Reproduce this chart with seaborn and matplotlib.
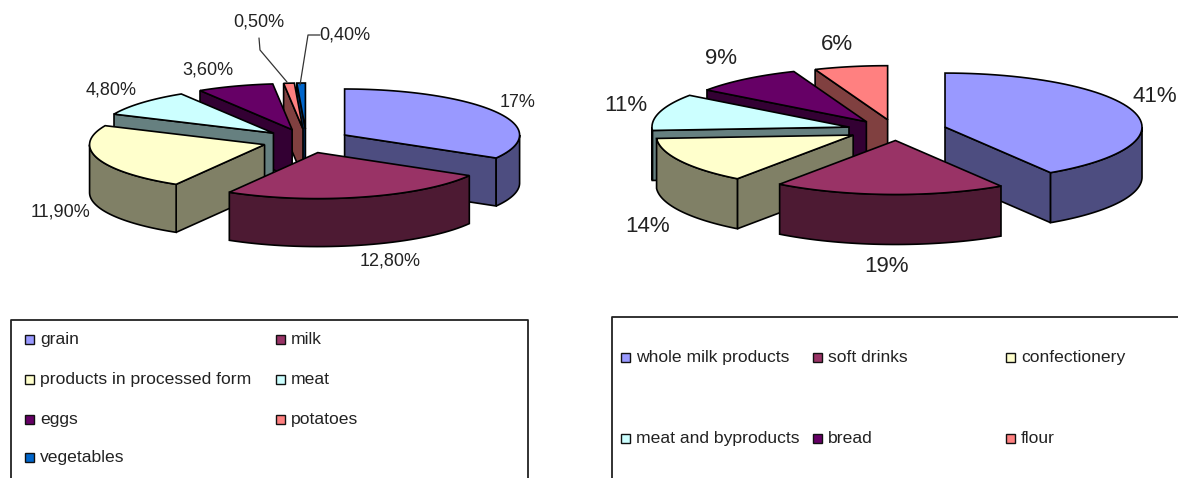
import numpy as np
import seaborn as sns
import matplotlib
matplotlib.use("Agg")
import matplotlib.pyplot as plt
from matplotlib.patches import Polygon, Rectangle

# data
left_names = ["grain", "milk", "products in processed form", "meat", "eggs", "potatoes", "vegetables"]
left_values = [17, 12.8, 11.9, 4.8, 3.6, 0.5, 0.4]
left_labels = ["17%", "12,80%", "11,90%", "4,80%", "3,60%", "0,50%", "0,40%"]

right_names = ["whole milk products", "soft drinks", "confectionery", "meat and byproducts", "bread", "flour"]
right_values = [41, 19, 14, 11, 9, 6]
right_labels = ["41%", "19%", "14%", "11%", "9%", "6%"]

top_colors = ["#9999FF", "#993366", "#FFFFCC", "#CCFFFF", "#660066", "#FF8080", "#0066CC"]

sns.set_theme(style="white")
plt.rcParams["font.family"] = ["Liberation Sans", "DejaVu Sans"]
TEXT = "#222222"

palette = sns.color_palette(top_colors)
wall_colors = [tuple(c * 0.5 for c in col) for col in palette]


def draw_pie(ax, values, cx, cy, rx, ry, ex, ey, depth):
    # fake excel 3d pie, slices go clockwise from 12 o'clock
    edges = np.cumsum([0] + list(values)) / sum(values) * 2 * np.pi
    mids = (edges[:-1] + edges[1:]) / 2
    order = np.argsort(-np.cos(mids))  # back to front

    for i in order:
        a0, a1 = edges[i], edges[i + 1]
        tx = cx + ex * np.sin(mids[i])
        ty = cy - ey * np.cos(mids[i])

        def rim(t):
            return np.column_stack([tx + rx * np.sin(t), ty - ry * np.cos(t)])

        # flat cut faces that look at the viewer
        for a, side in ((a0, -1), (a1, 1)):
            if np.cos(a + side * np.pi / 2) < 0:
                e = rim(np.array([a]))[0]
                ax.add_patch(Polygon([(tx, ty), e, (e[0], e[1] + depth), (tx, ty + depth)],
                                     facecolor=wall_colors[i], edgecolor="black", lw=1.2))

        # curved outer wall, front half only
        t0, t1 = max(a0, np.pi / 2), min(a1, 3 * np.pi / 2)
        if t0 < t1:
            arc = rim(np.linspace(t0, t1, 40))
            low = arc[::-1] + [0, depth]
            ax.add_patch(Polygon(np.vstack([arc, low]), facecolor=wall_colors[i],
                                 edgecolor="black", lw=1.2))

        # top face
        arc = rim(np.linspace(a0, a1, 60))
        ax.add_patch(Polygon(np.vstack([[(tx, ty)], arc]), facecolor=palette[i],
                             edgecolor="black", lw=1.2))


def draw_legend(ax, names, box_x0, box_x1, box_top, col_x, row_y):
    ax.plot([box_x0, box_x0, box_x1, box_x1], [480, box_top, box_top, 480],
            color="#222222", lw=1.3, clip_on=True)
    for i, name in enumerate(names):
        x = col_x[i % len(col_x)]
        y = row_y[i // len(col_x)]
        ax.add_patch(Rectangle((x, y - 4.5), 9, 9, facecolor=palette[i], edgecolor="#111111", lw=1))
        ax.text(x + 15, y + 0.5, name, fontsize=12.6, color=TEXT, va="center", ha="left")


fig = plt.figure(figsize=(11.78, 4.78), dpi=100)
ax = fig.add_axes([0, 0, 1, 1])
ax.set_xlim(0, 1178)
ax.set_ylim(478, 0)
ax.axis("off")

draw_pie(ax, left_values, 306.5, 141, 175, 46, 44, 12, 48)
draw_pie(ax, right_values, 897, 130, 197, 54, 50, 10.5, 50)

# left pie labels
left_pos = [(518, 102), (390, 261), (60, 212), (111, 90), (208, 70), (259, 22), (345, 35)]
for txt, (x, y) in zip(left_labels, left_pos):
    ax.text(x, y, txt, fontsize=13, color=TEXT, ha="center", va="center")
ax.plot([259, 260, 287], [38, 50, 82], color="#333333", lw=0.9)
ax.plot([320, 308, 300], [35, 35, 85], color="#333333", lw=0.9)

# right pie labels, 41% pulled in a bit so it stays whole and off the slice
right_pos = [(1155, 96), (886, 267), (648, 226), (626, 105), (721, 58), (837, 44)]
for txt, (x, y) in zip(right_labels, right_pos):
    ax.text(x, y, txt, fontsize=16, color=TEXT, ha="center", va="center")

draw_legend(ax, left_names, 11, 528, 320, [25, 276], [339, 379, 419, 457])
draw_legend(ax, right_names, 612, 1185, 317, [621, 813, 1006], [357, 438])

sns.despine(left=True, bottom=True)
plt.savefig("out.png", dpi=100)
